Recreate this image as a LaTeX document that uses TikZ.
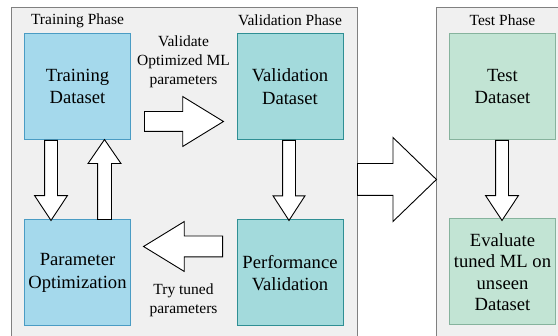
\documentclass[tikz,border=0pt]{standalone}
\usepackage{fontspec}
\setmainfont{Liberation Serif}
\usetikzlibrary{shapes.arrows}

\definecolor{panelgray}{HTML}{F0F0F0}
\definecolor{panelline}{HTML}{808080}
\definecolor{trainfill}{HTML}{A5D9EC}
\definecolor{trainline}{HTML}{4A9CC4}
\definecolor{validfill}{HTML}{A3DADC}
\definecolor{validline}{HTML}{2F8F94}
\definecolor{testfill}{HTML}{C2E4D4}
\definecolor{testline}{HTML}{86B39D}

\begin{document}
\begin{tikzpicture}[x=1pt,y=-1pt,
  phase/.style={fill=panelgray,draw=panelline,line width=0.8pt},
  databox/.style={minimum width=106pt,minimum height=106pt,align=center,line width=1pt,font=\fontsize{18.6}{22.5}\selectfont},
  phaselabel/.style={font=\fontsize{15.5}{19}\selectfont,align=center},
  blockarrow/.style={single arrow,draw=black,fill=white,line width=0.9pt,inner xsep=0pt,anchor=tail}]
\useasboundingbox (0,0) rectangle (558,336);
\clip (0,0) rectangle (558,336);

% phase panels
\draw[phase] (11,7) rectangle (357,345);
\draw[phase] (436,7) rectangle (575,345);
\node[phaselabel] (trainphase) at (77.5,20.5) {Training Phase};
\node[phaselabel] (validphase) at (290,20.5) {Validation Phase};
\node[phaselabel] (testphase) at (502.5,20.5) {Test Phase};

% data boxes
\node[databox,fill=trainfill,draw=trainline] (train) at (77.5,86.5) {Training\\Dataset};
\node[databox,fill=validfill,draw=validline] (valid) at (290,86.5) {Validation\\Dataset};
\node[databox,fill=testfill,draw=testline] (test) at (502.5,86.5) {Test\\Dataset};
\node[databox,fill=trainfill,draw=trainline] (param) at (77.5,273) {Parameter\\Optimization};
\node[databox,fill=validfill,draw=validline] (perf) at (290,273) {Performance\\Validation};
\node[databox,fill=testfill,draw=testline,font=\fontsize{18.6}{21.5}\selectfont] (evalml) at (502.5,272) {Evaluate\\tuned ML on\\unseen\\Dataset};

% block arrows
\node[blockarrow,minimum height=79pt,inner ysep=9.5pt,single arrow head extend=15pt,single arrow tip angle=63] (trainvalid) at (144,121.5) {};
\node[blockarrow,rotate=-90,minimum height=80pt,inner ysep=6pt,single arrow head extend=10pt,single arrow tip angle=67] (trainparam) at (51,140) {};
\node[blockarrow,rotate=90,minimum height=80pt,inner ysep=6.5pt,single arrow head extend=9.5pt,single arrow tip angle=69] (paramtrain) at (104.5,220) {};
\node[blockarrow,rotate=-90,minimum height=80pt,inner ysep=6pt,single arrow head extend=9.5pt,single arrow tip angle=66] (validperf) at (289,140) {};
\node[blockarrow,rotate=180,minimum height=79pt,inner ysep=10pt,single arrow head extend=14.5pt,single arrow tip angle=63] (perfparam) at (223,246.5) {};
\node[blockarrow,minimum height=79pt,inner ysep=15.5pt,single arrow head extend=26pt,single arrow tip angle=88] (validtest) at (357,179.5) {};
\node[blockarrow,rotate=-90,minimum height=80pt,inner ysep=6pt,single arrow head extend=10pt,single arrow tip angle=67] (testeval) at (502,140) {};

% arrow labels
\node[phaselabel] (validlabel) at (183.5,62) {Validate\\Optimized ML\\parameters};
\node[phaselabel] (trylabel) at (183.5,300) {Try tuned\\parameters};
\end{tikzpicture}
\end{document}
